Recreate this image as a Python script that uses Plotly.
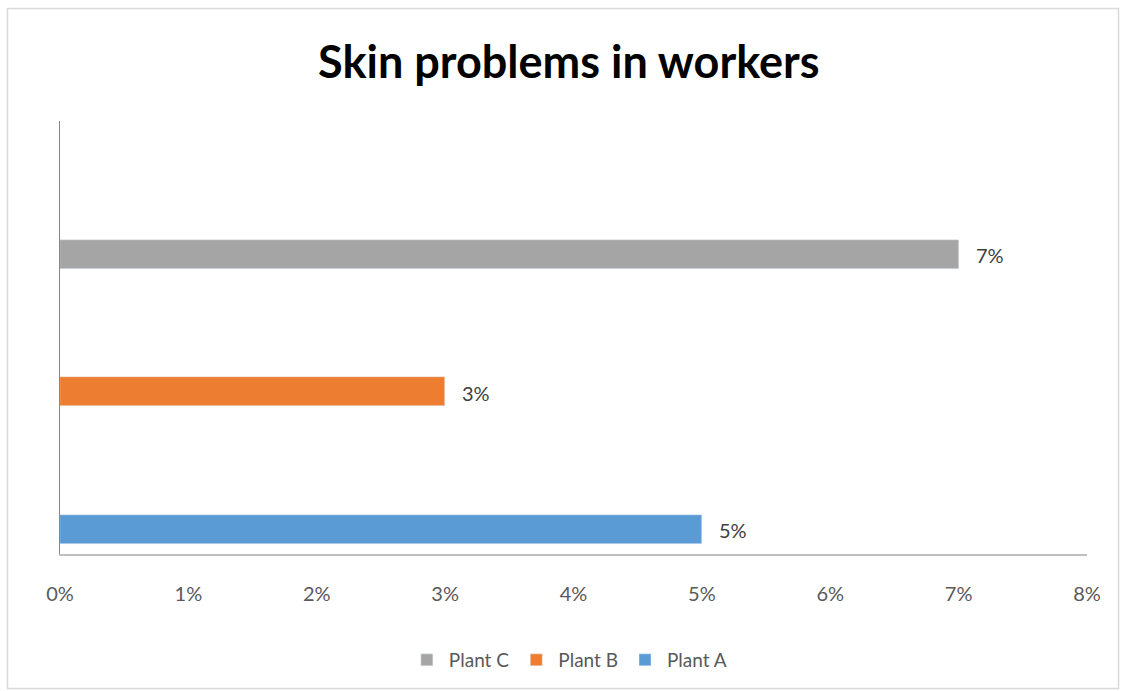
import plotly.graph_objects as go

plants = ["Plant A", "Plant B", "Plant C"]
values = [0.05, 0.03, 0.07]
colors = ["#5B9BD5", "#ED7D31", "#A5A5A5"]
tick_vals = [0, 0.01, 0.02, 0.03, 0.04, 0.05, 0.06, 0.07, 0.08]

W, H = 1122, 691
L, R, T, B = 60, 35, 121, 137
FONT = "Lato, Carlito, sans-serif"

fig = go.Figure()
for i, (p, v, c) in enumerate(zip(plants, values, colors)):
    fig.add_trace(go.Bar(
        x=[v], y=[i], orientation="h", name=p, marker_color=c,
        width=0.21,
    ))
    fig.add_annotation(x=v, y=i, text=f"{v:.0%}", showarrow=False,
                       xanchor="left", xshift=15, yshift=-1,
                       font=dict(family=FONT, size=20, color="#404040"))

pw = W - L - R
ph = H - T - B
def px(x): return (x - L) / pw
def py(y): return (H - B - y) / ph

fig.add_shape(type="rect", xref="paper", yref="paper",
              x0=px(7.5), x1=px(1118.5), y0=py(688.5), y1=py(8.5),
              line=dict(color="#D9D9D9", width=1.5), layer="below")

fig.update_layout(
    width=W, height=H,
    margin=dict(l=L, r=R, t=T, b=B),
    paper_bgcolor="white", plot_bgcolor="white",
    title=dict(text="<b>Skin problems in workers</b>", x=0.507, xanchor="center",
               y=1 - 62 / H, yanchor="middle",
               font=dict(family=FONT, size=45, color="#000000")),
    xaxis=dict(range=[0, 0.08], tickvals=tick_vals, tickformat=".0%",
               showgrid=False, zeroline=False, showline=True, linecolor="#BFBFBF",
               linewidth=1.5, ticks="", ticklabelstandoff=21,
               tickfont=dict(family=FONT, size=20, color="#595959")),
    yaxis=dict(range=[-0.18, 2.967], showticklabels=False, showgrid=False,
               zeroline=False, showline=True, linecolor="#868686", linewidth=1, ticks=""),
    showlegend=True,
    legend=dict(orientation="h", x=0.495, xanchor="center", y=py(660), yanchor="middle",
                traceorder="reversed",
                font=dict(family=FONT, size=19, color="#595959"),
                itemwidth=34),
    bargap=0,
)

fig.write_html("out.html")
